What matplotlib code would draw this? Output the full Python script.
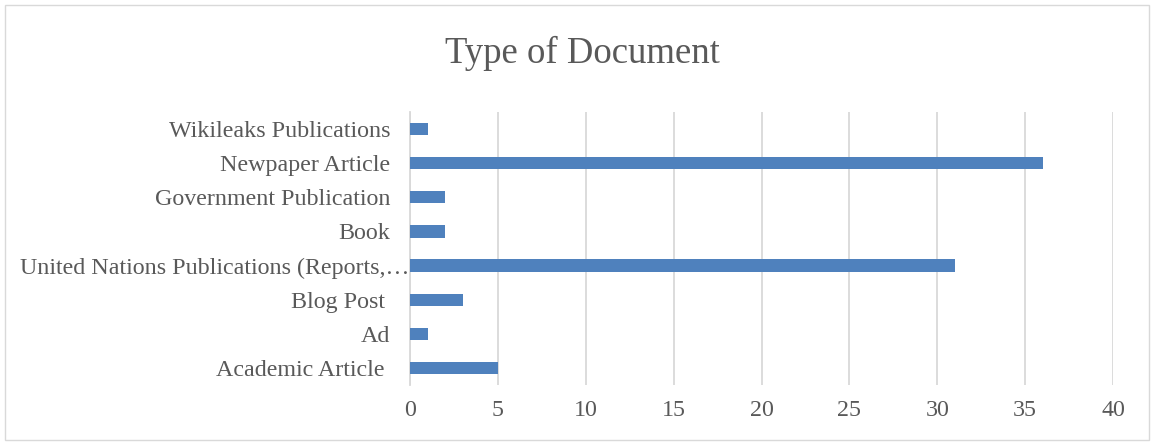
import matplotlib.pyplot as plt
import matplotlib.transforms as mtransforms
from matplotlib.patches import Rectangle

# document types, bottom to top as drawn
categories = ['Academic Article ', 'Ad', 'Blog Post ',
              'United Nations Publications (Reports,\u2026', 'Book',
              'Government Publication', 'Newpaper Article', 'Wikileaks Publications']
counts = [5, 1, 3, 31, 2, 2, 36, 1]
xticks = [0, 5, 10, 15, 20, 25, 30, 35, 40]

plt.rcParams['font.family'] = ['Liberation Serif', 'DejaVu Serif']
txt = '#595959'

fig = plt.figure(figsize=(11.54, 4.42), dpi=100)
ax = fig.add_axes([0.3553, 0.129, 0.6092, 0.6176])

ax.barh(range(len(categories)), counts, height=0.36, color='#4F81BD', zorder=3)
ax.set_ylim(-0.5, len(categories) - 0.5)
ax.set_xlim(0, 40)
ax.set_xticks(xticks)
ax.set_yticks(range(len(categories)))
ax.set_yticklabels(categories)

ax.grid(axis='x', color='#D9D9D9', linewidth=1.3, zorder=0)
for s in ['top', 'right', 'bottom']:
    ax.spines[s].set_visible(False)
ax.spines['left'].set_color('#D9D9D9')
ax.spines['left'].set_linewidth(1.3)
ax.tick_params(axis='both', length=0, colors=txt, labelsize=17.3)
ax.tick_params(axis='y', pad=14)
ax.tick_params(axis='x', pad=11)

# the truncated long label runs right up to the axis, like in Excel
lab = ax.get_yticklabels()[3]
lab.set_transform(lab.get_transform() +
                  mtransforms.ScaledTranslation(0.19, 0, fig.dpi_scale_trans))

fig.text(0.505, 0.88, 'Type of Document', ha='center', va='center',
         fontsize=26.5, color=txt)

# light chart-area border
fig.add_artist(Rectangle((0.004, 0.004), 0.992, 0.985, transform=fig.transFigure,
                         fill=False, edgecolor='#D9D9D9', linewidth=1.0))

fig.savefig('out.png', dpi=100)
